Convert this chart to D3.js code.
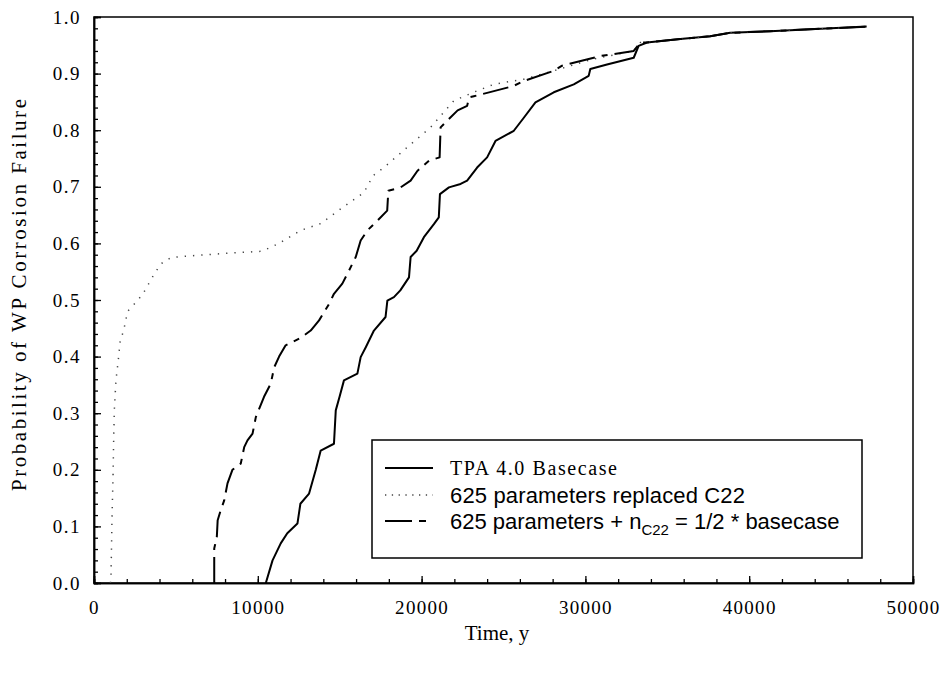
<!DOCTYPE html>
<html>
<head>
<meta charset="utf-8">
<script src="https://cdn.jsdelivr.net/npm/d3@7"></script>
<style>
  html, body { margin: 0; padding: 0; background: #fff; }
  svg { display: block; }
</style>
</head>
<body>
<svg id="chart" width="940" height="679"></svg>
<script>
// Cumulative probability of waste-package corrosion failure vs. time (years)
const seriesNames = [
  "TPA 4.0 Basecase",
  "625 parameters replaced C22",
  "625 parameters + n_C22 = 1/2 * basecase"
];

// [time (y), probability]
const basecase = [
  [10490,0.0],[10900,0.04],[11400,0.07],[11800,0.088],[12420,0.105],[12600,0.14],
  [13130,0.158],[13540,0.2],[13840,0.234],[14650,0.246],[14760,0.305],[15000,0.33],
  [15260,0.358],[16080,0.37],[16280,0.399],[16600,0.417],[17090,0.446],[17800,0.47],
  [17910,0.499],[18310,0.505],[18700,0.517],[19230,0.54],[19330,0.576],[19700,0.587],
  [20140,0.611],[20750,0.634],[21050,0.646],[21120,0.687],[21670,0.699],[22380,0.705],
  [22780,0.711],[23390,0.734],[24000,0.752],[24510,0.781],[25630,0.799],[26240,0.822],
  [26950,0.849],[28070,0.867],[29290,0.881],[30200,0.896],[30300,0.908],[31320,0.916],
  [32950,0.928],[33250,0.949],[33760,0.955],[35790,0.961],[37620,0.966],[38840,0.972],
  [41280,0.975],[47170,0.983]
];

const replacedC22 = [
  [1000,0.0],[1037,0.01],[1070,0.064],[1100,0.117],[1160,0.185],[1200,0.252],
  [1240,0.305],[1340,0.358],[1480,0.393],[1600,0.428],[1810,0.446],[2050,0.48],
  [2560,0.496],[2970,0.51],[3680,0.546],[4090,0.564],[4700,0.575],[5900,0.578],
  [8350,0.583],[10180,0.586],[10800,0.593],[11400,0.602],[12620,0.623],[13840,0.635],
  [15060,0.661],[16480,0.69],[17050,0.72],[17700,0.734],[19130,0.77],[20550,0.805],
  [21970,0.852],[23170,0.867],[24400,0.881],[25600,0.887],[26240,0.89],[28070,0.905],
  [30510,0.926],[32950,0.94],[33350,0.955],[33760,0.955],[35790,0.961],[37620,0.966],
  [38840,0.972],[41280,0.975],[47170,0.983]
];

const halfNC22 = [
  [7340,0.0],[7340,0.061],[7500,0.082],[7550,0.111],[7740,0.129],[7950,0.146],
  [8150,0.176],[8450,0.2],[8960,0.211],[9170,0.24],[9370,0.252],[9680,0.264],
  [9880,0.293],[10380,0.329],[10790,0.352],[11000,0.381],[11300,0.4],[11700,0.42],
  [12620,0.433],[13230,0.446],[13740,0.464],[14350,0.493],[14650,0.511],[15160,0.529],
  [15570,0.552],[15980,0.576],[16280,0.605],[16690,0.623],[17300,0.64],[17900,0.658],
  [17970,0.693],[18720,0.699],[19330,0.711],[19740,0.728],[20450,0.746],[21100,0.752],
  [21160,0.805],[21500,0.815],[22200,0.835],[22780,0.843],[22900,0.858],[23190,0.86],
  [24000,0.866],[25600,0.878],[26240,0.887],[28070,0.905],[28580,0.914],[30510,0.928],
  [30910,0.931],[32950,0.94],[33350,0.955],[33760,0.955],[35790,0.961],[37620,0.966],
  [38840,0.972],[41280,0.975],[47170,0.983]
];

const xTicks = [0, 10000, 20000, 30000, 40000, 50000];
const yTicks = [0.0, 0.1, 0.2, 0.3, 0.4, 0.5, 0.6, 0.7, 0.8, 0.9, 1.0];

const serif = "'Liberation Serif', 'Times New Roman', serif";
const sans = "'Liberation Sans', Arial, sans-serif";

const svg = d3.select("#chart");
const x = d3.scaleLinear().domain([0, 50000]).range([94, 913]);
const y = d3.scaleLinear().domain([0, 1]).range([583, 17]);

const g = svg.append("g");

// Frame
g.append("rect")
  .attr("x", x(0)).attr("y", y(1))
  .attr("width", x(50000) - x(0)).attr("height", y(0) - y(1))
  .attr("fill", "none").attr("stroke", "#000").attr("stroke-width", 1.5);

// Bottom axis: inward ticks, major every 10000, minor every 2000
const xAxis = d3.axisBottom(x).tickValues(xTicks).tickSize(-7).tickPadding(18)
  .tickFormat(d3.format("d"));
const xMinor = d3.axisBottom(x).tickValues(d3.range(0, 50001, 2000)).tickSize(-4).tickFormat("");
const gx = g.append("g").attr("transform", `translate(0,${y(0)})`).call(xMinor);
const gx2 = g.append("g").attr("transform", `translate(0,${y(0)})`).call(xAxis);
[gx, gx2].forEach(a => {
  a.select(".domain").attr("stroke-width", 1.5);
  a.selectAll(".tick line").attr("stroke-width", 1.3);
});
gx2.selectAll(".tick text")
  .attr("font-family", serif).attr("font-size", 19).attr("letter-spacing", 1.3)
  .attr("fill", "#000");

// Left axis: inward ticks, major every 0.1, minor every 0.02
const yAxis = d3.axisLeft(y).tickValues(yTicks).tickSize(-7).tickPadding(13)
  .tickFormat(d3.format(".1f"));
const yMinor = d3.axisLeft(y).tickValues(d3.range(0, 51).map(i => i / 50)).tickSize(-4).tickFormat("");
const gy = g.append("g").attr("transform", `translate(${x(0)},0)`).call(yMinor);
const gy2 = g.append("g").attr("transform", `translate(${x(0)},0)`).call(yAxis);
[gy, gy2].forEach(a => {
  a.select(".domain").attr("stroke-width", 1.5);
  a.selectAll(".tick line").attr("stroke-width", 1.3);
});
gy2.selectAll(".tick text")
  .attr("font-family", serif).attr("font-size", 19).attr("letter-spacing", 1.5)
  .attr("fill", "#000");

// Axis titles
g.append("text")
  .attr("x", 497).attr("y", 640).attr("text-anchor", "middle")
  .attr("font-family", serif).attr("font-size", 21)
  .text("Time, y");
g.append("text")
  .attr("transform", "translate(26,295) rotate(-90)")
  .attr("text-anchor", "middle")
  .attr("font-family", serif).attr("font-size", 21)
  .attr("textLength", 392).attr("lengthAdjust", "spacing")
  .text("Probability of WP Corrosion Failure");

// Curves
const line = d3.line().x(d => x(d[0])).y(d => y(d[1]));
const styles = [
  { data: basecase, dash: null, width: 2.0, color: "#000" },
  { data: replacedC22, dash: "1.3,7", width: 1.5, color: "#444" },
  { data: halfNC22, dash: "26,7,6,7", width: 2.0, color: "#000" }
];
styles.forEach(s => {
  g.append("path")
    .attr("d", line(s.data))
    .attr("fill", "none")
    .attr("stroke", s.color)
    .attr("stroke-width", s.width)
    .attr("stroke-dasharray", s.dash)
    .attr("stroke-linejoin", "round");
});

// Legend
const lg = g.append("g");
lg.append("rect")
  .attr("x", 372).attr("y", 440).attr("width", 490).attr("height", 118)
  .attr("fill", "#fff").attr("stroke", "#000").attr("stroke-width", 1.5);
const rows = [468, 495, 521];
lg.append("line").attr("x1", 385).attr("x2", 433).attr("y1", rows[0]).attr("y2", rows[0])
  .attr("stroke", "#000").attr("stroke-width", 1.8);
lg.append("line").attr("x1", 385).attr("x2", 433).attr("y1", rows[1]).attr("y2", rows[1])
  .attr("stroke", "#444").attr("stroke-width", 1.4).attr("stroke-dasharray", "1.3,5.5");
lg.append("line").attr("x1", 385).attr("x2", 426).attr("y1", rows[2]).attr("y2", rows[2])
  .attr("stroke", "#000").attr("stroke-width", 1.8).attr("stroke-dasharray", "27,7,7,20");

lg.append("text").attr("x", 450).attr("y", rows[0] + 7)
  .attr("font-family", serif).attr("font-size", 20)
  .attr("textLength", 167).attr("lengthAdjust", "spacing")
  .text(seriesNames[0]);
lg.append("text").attr("x", 450).attr("y", rows[1] + 8)
  .attr("font-family", sans).attr("font-size", 22)
  .attr("textLength", 295).attr("lengthAdjust", "spacing")
  .text(seriesNames[1]);
const t3 = lg.append("text").attr("x", 450).attr("y", rows[2] + 8)
  .attr("font-family", sans).attr("font-size", 22);
t3.append("tspan").text("625 parameters + n");
t3.append("tspan").attr("font-size", 15).attr("dy", 6).text("C22");
t3.append("tspan").attr("dy", -6).text(" = 1/2 * basecase");
</script>
</body>
</html>
